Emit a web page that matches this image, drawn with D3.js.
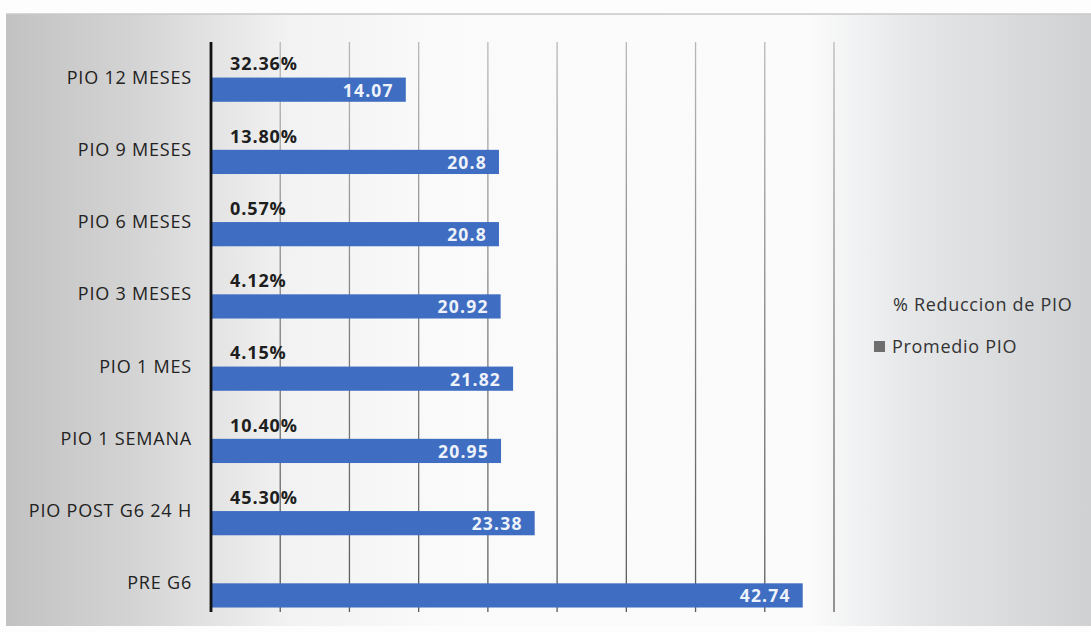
<!DOCTYPE html>
<html>
<head>
<meta charset="utf-8">
<script src="https://cdn.jsdelivr.net/npm/d3@7"></script>
<style>
  html, body { margin: 0; padding: 0; background: #fff; }
  svg { display: block; }
</style>
</head>
<body>
<svg id="chart" width="1091" height="632"></svg>
<script>
// Categories, top to bottom
const categories = ["PIO 12 MESES", "PIO 9 MESES", "PIO 6 MESES", "PIO 3 MESES",
                    "PIO 1 MES", "PIO 1 SEMANA", "PIO POST G6 24 H", "PRE G6"];
// Mean IOP per time point
const promedio = [14.07, 20.8, 20.8, 20.92, 21.82, 20.95, 23.38, 42.74];
// % IOP reduction label per time point (none for baseline)
const reduccion = [32.36, 13.80, 0.57, 4.12, 4.15, 10.40, 45.30, null];
// Vertical grid values
const gridTicks = [5, 10, 15, 20, 25, 30, 35, 40, 45];
const legendLabels = ["% Reduccion de PIO", "Promedio PIO"];

const svg = d3.select("#chart");
const W = 1091, H = 632;
const FONT = "'Open Sans', sans-serif";

// Paper background with soft shading at the edges
const defs = svg.append("defs");
const bg = defs.append("linearGradient").attr("id", "bg").attr("x1", 0).attr("x2", 1);
[[0, "#c2c2c2"], [0.12, "#d4d4d4"], [0.26, "#f2f2f2"], [0.4, "#fafafa"],
 [0.74, "#fbfbfb"], [0.84, "#e4e6e8"], [1, "#cfd1d3"]].forEach(([o, c]) =>
  bg.append("stop").attr("offset", o).attr("stop-color", c));
svg.append("rect").attr("width", W).attr("height", H).attr("fill", "#fdfdfd");
svg.append("rect").attr("x", 6).attr("y", 14).attr("width", W - 6).attr("height", 612)
  .attr("fill", "url(#bg)");
svg.append("line").attr("x1", 6).attr("x2", W).attr("y1", 14).attr("y2", 14)
  .attr("stroke", "#c8c8c8").attr("stroke-width", 1.5);

const plotTop = 42, plotBottom = 612;

// Gridlines fade toward the top
const gg = defs.append("linearGradient").attr("id", "grid")
  .attr("gradientUnits", "userSpaceOnUse")
  .attr("x1", 0).attr("x2", 0).attr("y1", plotTop).attr("y2", plotBottom);
gg.append("stop").attr("offset", 0).attr("stop-color", "#b8b8b8");
gg.append("stop").attr("offset", 0.5).attr("stop-color", "#808080");
gg.append("stop").attr("offset", 1).attr("stop-color", "#5a5a5a");

const x0 = 211;
const x = d3.scaleLinear().domain([0, 45]).range([x0, 834]);
const y = d3.scaleBand().domain(categories).range([40, 618]).padding(0);
const step = y.step();

// Vertical gridlines
svg.append("g").selectAll("line").data(gridTicks).join("line")
  .attr("x1", d => x(d)).attr("x2", d => x(d))
  .attr("y1", plotTop).attr("y2", plotBottom)
  .attr("stroke", "url(#grid)").attr("stroke-width", 1.3);

// Bars
const barTop = step * 0.52, barH = step * 0.335;
svg.append("g").selectAll("rect").data(categories).join("rect")
  .attr("x", x(0))
  .attr("y", d => y(d) + barTop)
  .attr("width", (d, i) => x(promedio[i]) - x(0))
  .attr("height", barH)
  .attr("fill", "#3f6dc1");

// Value labels inside bar ends
svg.append("g").selectAll("text").data(categories).join("text")
  .attr("x", (d, i) => x(promedio[i]) - 12)
  .attr("y", d => y(d) + barTop + barH / 2 + 7)
  .attr("text-anchor", "end")
  .attr("font-family", FONT)
  .attr("font-weight", "bold")
  .attr("font-size", 17.5)
  .attr("letter-spacing", 1.2)
  .attr("fill", "#eef2fa")
  .text((d, i) => promedio[i]);

// Reduction percentage labels above each bar
svg.append("g").selectAll("text").data(categories.filter((d, i) => reduccion[i] !== null))
  .join("text")
  .attr("x", x(0) + 19)
  .attr("y", d => y(d) + step * 0.42)
  .attr("font-family", FONT)
  .attr("font-weight", "bold")
  .attr("font-size", 18)
  .attr("letter-spacing", 0.9)
  .attr("fill", "#1e1e1e")
  .text(d => reduccion[categories.indexOf(d)].toFixed(2) + "%");

// Category axis
const yAxis = svg.append("g").attr("transform", `translate(${x0},0)`)
  .call(d3.axisLeft(y).tickSize(0).tickPadding(19));
yAxis.select(".domain").remove();
yAxis.selectAll("text")
  .attr("dy", "0.42em")
  .attr("font-family", FONT)
  .attr("font-size", 18)
  .attr("letter-spacing", 0.8)
  .attr("fill", "#222");
svg.append("line").attr("x1", x0).attr("x2", x0).attr("y1", plotTop).attr("y2", plotBottom)
  .attr("stroke", "#111").attr("stroke-width", 2.8);

// Legend
const lg = svg.append("g").attr("font-family", FONT)
  .attr("font-size", 18).attr("letter-spacing", 0.7).attr("fill", "#333");
lg.append("text").attr("x", 893).attr("y", 311).text(legendLabels[0]);
lg.append("rect").attr("x", 874).attr("y", 341).attr("width", 11).attr("height", 11)
  .attr("fill", "#6e6e6e");
lg.append("text").attr("x", 892).attr("y", 353).text(legendLabels[1]);
</script>
</body>
</html>
